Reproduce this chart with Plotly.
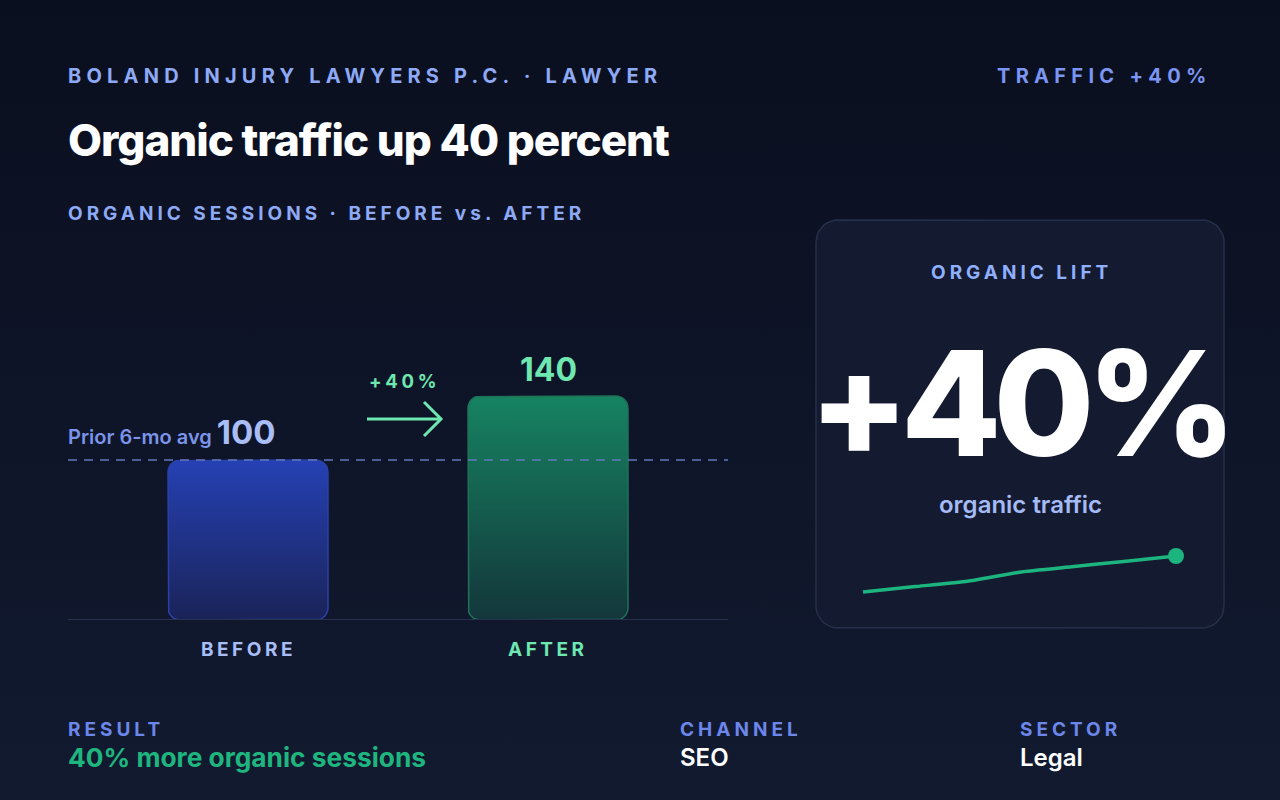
import numpy as np
import plotly.graph_objects as go

W, H = 1280, 800

# ---------------- data ----------------
categories = ["BEFORE", "AFTER"]
sessions = [100, 140]
baseline_label = "Prior 6-mo avg"
spark_values = [100, 106, 112, 122, 128, 134, 140]
header_left = "BOLAND INJURY LAWYERS P.C. · LAWYER"
header_right = "TRAFFIC +40%"
title_text = "Organic traffic up 40 percent"
subtitle_text = "ORGANIC SESSIONS · BEFORE vs. AFTER"
card_title = "ORGANIC LIFT"
card_sub = "organic traffic"
footer_labels = ["RESULT", "CHANNEL", "SECTOR"]
footer_values = ["40% more organic sessions", "SEO", "Legal"]

lift = round((sessions[1] - sessions[0]) / sessions[0] * 100)

FONT = "Inter"
MINT = "#6ee7b0"
GREEN = "#1fb57f"


def ls(text, px):
    return f'<span style="letter-spacing:{px}px">{text}</span>'


def rrect(x0, x1, y0, y1, rx, ry, n=10):
    xs, ys = [], []
    corners = [
        (x1 - rx, y1 - ry, 0, 90),
        (x0 + rx, y1 - ry, 90, 180),
        (x0 + rx, y0 + ry, 180, 270),
        (x1 - rx, y0 + ry, 270, 360),
    ]
    for cx, cy, a0, a1 in corners:
        for a in np.linspace(np.radians(a0), np.radians(a1), n):
            xs.append(cx + rx * np.cos(a))
            ys.append(cy + ry * np.sin(a))
    xs.append(xs[0]); ys.append(ys[0])
    return xs, ys


fig = go.Figure()

# ---------- background (axis 1 = pixel space) ----------
fig.add_trace(go.Scatter(x=[0, W, W, 0, 0], y=[0, 0, H, H, 0], mode="lines",
                         fill="toself", line=dict(width=0),
                         fillgradient=dict(type="vertical", start=0, stop=H,
                                           colorscale=[[0, "#0a0f1f"], [1, "#121a30"]]),
                         hoverinfo="skip", showlegend=False, xaxis="x", yaxis="y"))
cx, cy = rrect(816, 1224, 220, 628, 22, 22)
fig.add_trace(go.Scatter(x=cx, y=cy, mode="lines", fill="toself",
                         fillcolor="#141a2f", line=dict(color="#262f4a", width=1.5),
                         hoverinfo="skip", showlegend=False, xaxis="x", yaxis="y"))
# arrow
fig.add_trace(go.Scatter(x=[367, 441, None, 424, 441, 424], y=[419, 419, None, 402, 419, 436],
                         mode="lines", line=dict(color=MINT, width=3),
                         hoverinfo="skip", showlegend=False, xaxis="x", yaxis="y"))

# ---------- bars (axis 2) ----------
X0, X1 = 68, 728
BASE_PX, TOP_PX = 620, 340
xr = [-0.6, 1.6]
yr = [0, 175]
ppx = (X1 - X0) / (xr[1] - xr[0])
ppy = (BASE_PX - TOP_PX) / (yr[1] - yr[0])
bar_w = 160 / ppx
rad = 12

fills = [
    dict(colorscale=[[0, "#1a2358"], [1, "#2541b4"]], line="#2b40a6"),
    dict(colorscale=[[0, "#13363a"], [1, "#168361"]], line="#1f7257"),
]
fig.add_trace(go.Scatter(x=[xr[0], xr[1]], y=[yr[1], yr[1]], mode="lines",
                         line=dict(width=0), showlegend=False, hoverinfo="skip",
                         xaxis="x2", yaxis="y2"))
for i, (cat, v) in enumerate(zip(categories, sessions)):
    px_, py_ = rrect(i - bar_w / 2, i + bar_w / 2, 0, v, rad / ppx, rad / ppy)
    fig.add_trace(go.Scatter(x=px_, y=py_, mode="lines", fill="toself",
                             line=dict(color=fills[i]["line"], width=1.5),
                             fillgradient=dict(type="vertical", start=0, stop=v,
                                               colorscale=fills[i]["colorscale"]),
                             name=cat, showlegend=False, hoverinfo="skip",
                             xaxis="x2", yaxis="y2"))
# baseline axis line
fig.add_trace(go.Scatter(x=xr, y=[0, 0], mode="lines", line=dict(color="#283250", width=2),
                         showlegend=False, hoverinfo="skip", xaxis="x2", yaxis="y2"))
# prior average dashed line
fig.add_trace(go.Scatter(x=xr, y=[sessions[0], sessions[0]], mode="lines",
                         line=dict(color="rgba(100,120,190,0.75)", width=2, dash="9px,7px"),
                         showlegend=False, hoverinfo="skip", xaxis="x2", yaxis="y2"))

# ---------- sparkline (axis 3) ----------
n = len(spark_values)
sp_x0, sp_x1 = 863, 1176
sppx = (sp_x1 - sp_x0) / (n - 1)
pad = 0.3
sy_lo, sy_hi = 88, 152
sy_ppy = 0.9
fig.add_trace(go.Scatter(x=list(range(n)), y=spark_values, mode="lines",
                         line=dict(color="#1db57f", width=3.5, shape="spline", smoothing=0.4),
                         showlegend=False, hoverinfo="skip", xaxis="x3", yaxis="y3"))
fig.add_trace(go.Scatter(x=[n - 1], y=[spark_values[-1]], mode="markers",
                         marker=dict(color="#1db57f", size=16), cliponaxis=False,
                         showlegend=False, hoverinfo="skip", xaxis="x3", yaxis="y3"))

sp_dom_x = [(sp_x0 - pad * sppx) / W, (sp_x1 + pad * sppx) / W]
sp_bottom_px = 592 + (spark_values[0] - sy_lo) * sy_ppy
sp_top_px = 556 - (sy_hi - spark_values[-1]) * sy_ppy
sp_dom_y = [1 - sp_bottom_px / H, 1 - sp_top_px / H]

# ---------- annotations ----------
ann = []


def A(text, x, y, size, color, weight=700, xanchor="left", xref="x", yref="y", **kw):
    ann.append(dict(text=text, x=x, y=y, xref=xref, yref=yref, xanchor=xanchor,
                    yanchor="middle", showarrow=False,
                    font=dict(family=FONT, size=size, color=color, weight=weight), **kw))


A(ls(header_left, 5.2), 66, 76, 20, "#8eaaf6")
A(ls(header_right, 5.3), 1214, 76, 20, "#7b95f2", xanchor="right")
A(ls(title_text, -1), 66, 140, 44, "#ffffff", weight=800)
A(ls(subtitle_text, 4), 66, 213, 19, "#8eaaf6")

A(f'{baseline_label} <span style="font-size:33px;font-weight:700;color:#a9bdf6">{sessions[0]}</span>',
  66, 432, 20, "#7b94ea", weight=600)
A(ls(f"+{lift}%", 3.7), 404, 381, 18.5, MINT, xanchor="center")
A(f"{sessions[1]}", 1, sessions[1], 32, MINT, xanchor="center", xref="x2", yref="y2", yshift=27)

cat_colors = ["#a9bdf6", MINT]
for i, cat in enumerate(categories):
    A(ls(cat, 3.5), i, 649, 19, cat_colors[i], xanchor="center", xref="x2", xshift=0)

A(ls(card_title, 4), 1021, 272, 19, "#8fb0ff", xanchor="center")
A(ls(f"+{lift}%", -8), 1019, 403, 146, "#ffffff", weight=800, xanchor="center")
A(card_sub, 1020, 504, 24, "#a5bbf6", weight=600, xanchor="center")

fx = [66, 678, 1018]
for i in range(3):
    A(ls(footer_labels[i], 4), fx[i], 729, 19, "#6c86ea")
    A(footer_values[i], fx[i], 757, 26.3 if i == 0 else 24, GREEN if i == 0 else "#ffffff",
      weight=700 if i == 0 else 600)

hidden = dict(visible=False, showgrid=False, zeroline=False, fixedrange=True)
fig.update_layout(
    width=W, height=H,
    margin=dict(l=0, r=0, t=0, b=0),
    paper_bgcolor="#0e1427", plot_bgcolor="rgba(0,0,0,0)",
    showlegend=False,
    xaxis=dict(domain=[0, 1], range=[0, W], **hidden),
    yaxis=dict(domain=[0, 1], range=[H, 0], **hidden),
    xaxis2=dict(domain=[X0 / W, X1 / W], range=xr, anchor="y2", **hidden),
    yaxis2=dict(domain=[1 - BASE_PX / H, 1 - TOP_PX / H], range=yr, anchor="x2", **hidden),
    xaxis3=dict(domain=sp_dom_x, range=[-pad, n - 1 + pad], anchor="y3", **hidden),
    yaxis3=dict(domain=sp_dom_y, range=[sy_lo, sy_hi], anchor="x3", **hidden),
    annotations=ann,
    font=dict(family=FONT),
)

fig.write_html("out.html", config=dict(displayModeBar=False))
